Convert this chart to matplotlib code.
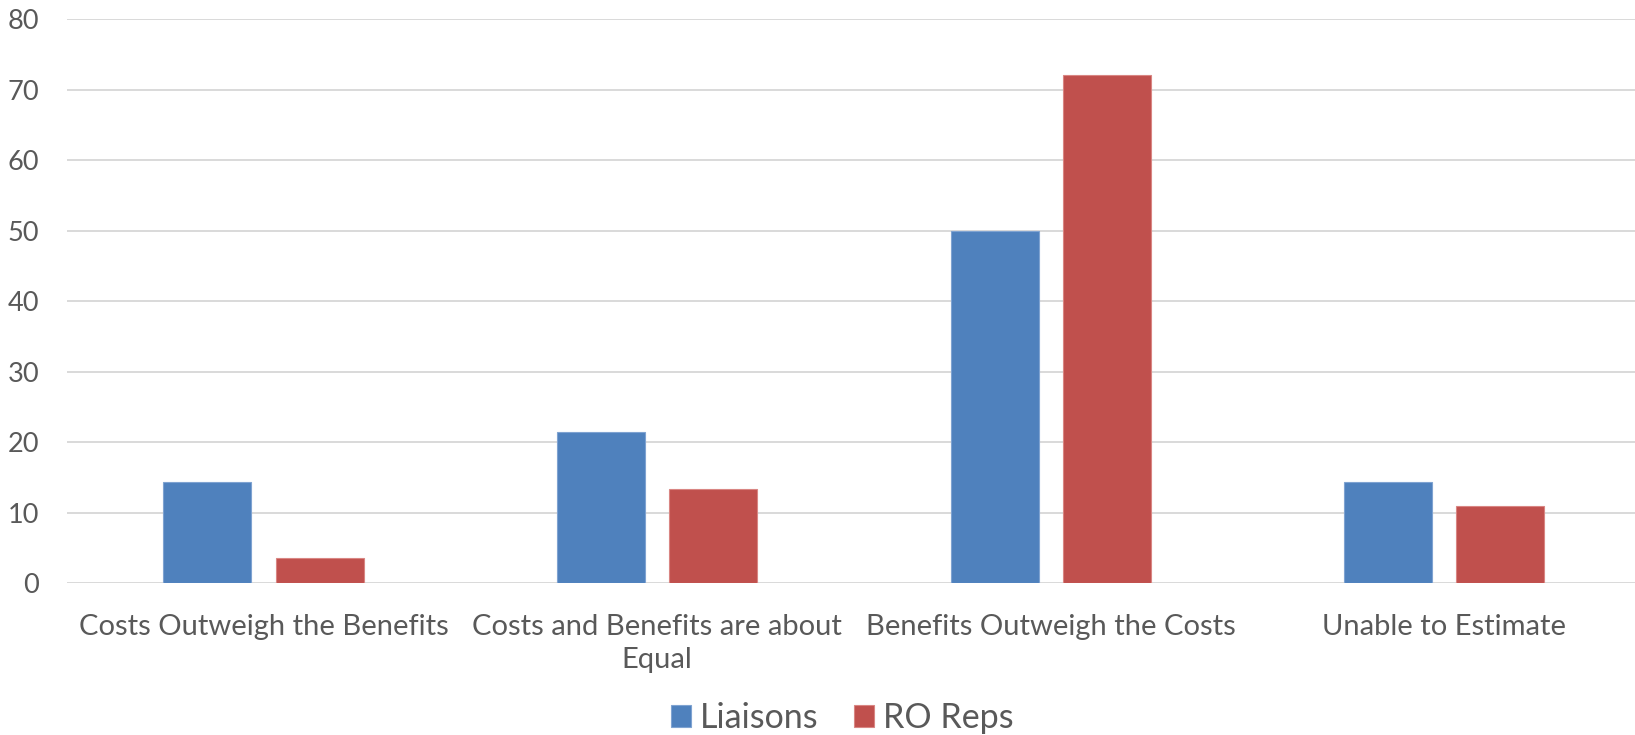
import numpy as np
import matplotlib.pyplot as plt

# survey responses (% of respondents)
categories = ["Costs Outweigh the Benefits", "Costs and Benefits are about\nEqual",
              "Benefits Outweigh the Costs", "Unable to Estimate"]
liaisons = [14.3, 21.4, 50.0, 14.3]
ro_reps = [3.6, 13.3, 72.0, 11.0]

plt.rcParams['font.family'] = ['Lato', 'DejaVu Sans']
text_color = '#595959'

fig = plt.figure(figsize=(16.35, 7.35), dpi=100)
ax = fig.add_axes([66.7 / 1635, 1 - 583.3 / 735, 1574.4 / 1635, (583.3 - 19) / 735])

x = np.arange(len(categories))
w = 0.224
off = 0.1425
ax.bar(x - off, liaisons, w, color='#4F81BD', edgecolor='#7FA3D1', linewidth=0.8,
       label='Liaisons', zorder=3)
ax.bar(x + off, ro_reps, w, color='#C0504D', edgecolor='#D98683', linewidth=0.8,
       label='RO Reps', zorder=3)

ax.set_xlim(-0.5, len(categories) - 0.5)
ax.set_ylim(0, 80)
ax.set_yticks(range(0, 81, 10))
ax.set_xticks(x)
ax.set_xticklabels(categories, fontsize=21, color=text_color, linespacing=1.35)
ax.tick_params(axis='y', length=0, pad=20, labelsize=19.5, labelcolor=text_color)
ax.tick_params(axis='x', length=0, pad=22)

ax.grid(axis='y', color='#D9D9D9', linewidth=1.4, zorder=0)
for s in ax.spines.values():
    s.set_visible(False)

leg = fig.legend(loc='center', bbox_to_anchor=(842 / 1635, 1 - 718 / 735), ncol=2,
                 frameon=False, fontsize=24.5, handlelength=0.6, handleheight=0.6,
                 handletextpad=0.25, columnspacing=1.05)
for t in leg.get_texts():
    t.set_color(text_color)

fig.savefig('out.png', dpi=100)
